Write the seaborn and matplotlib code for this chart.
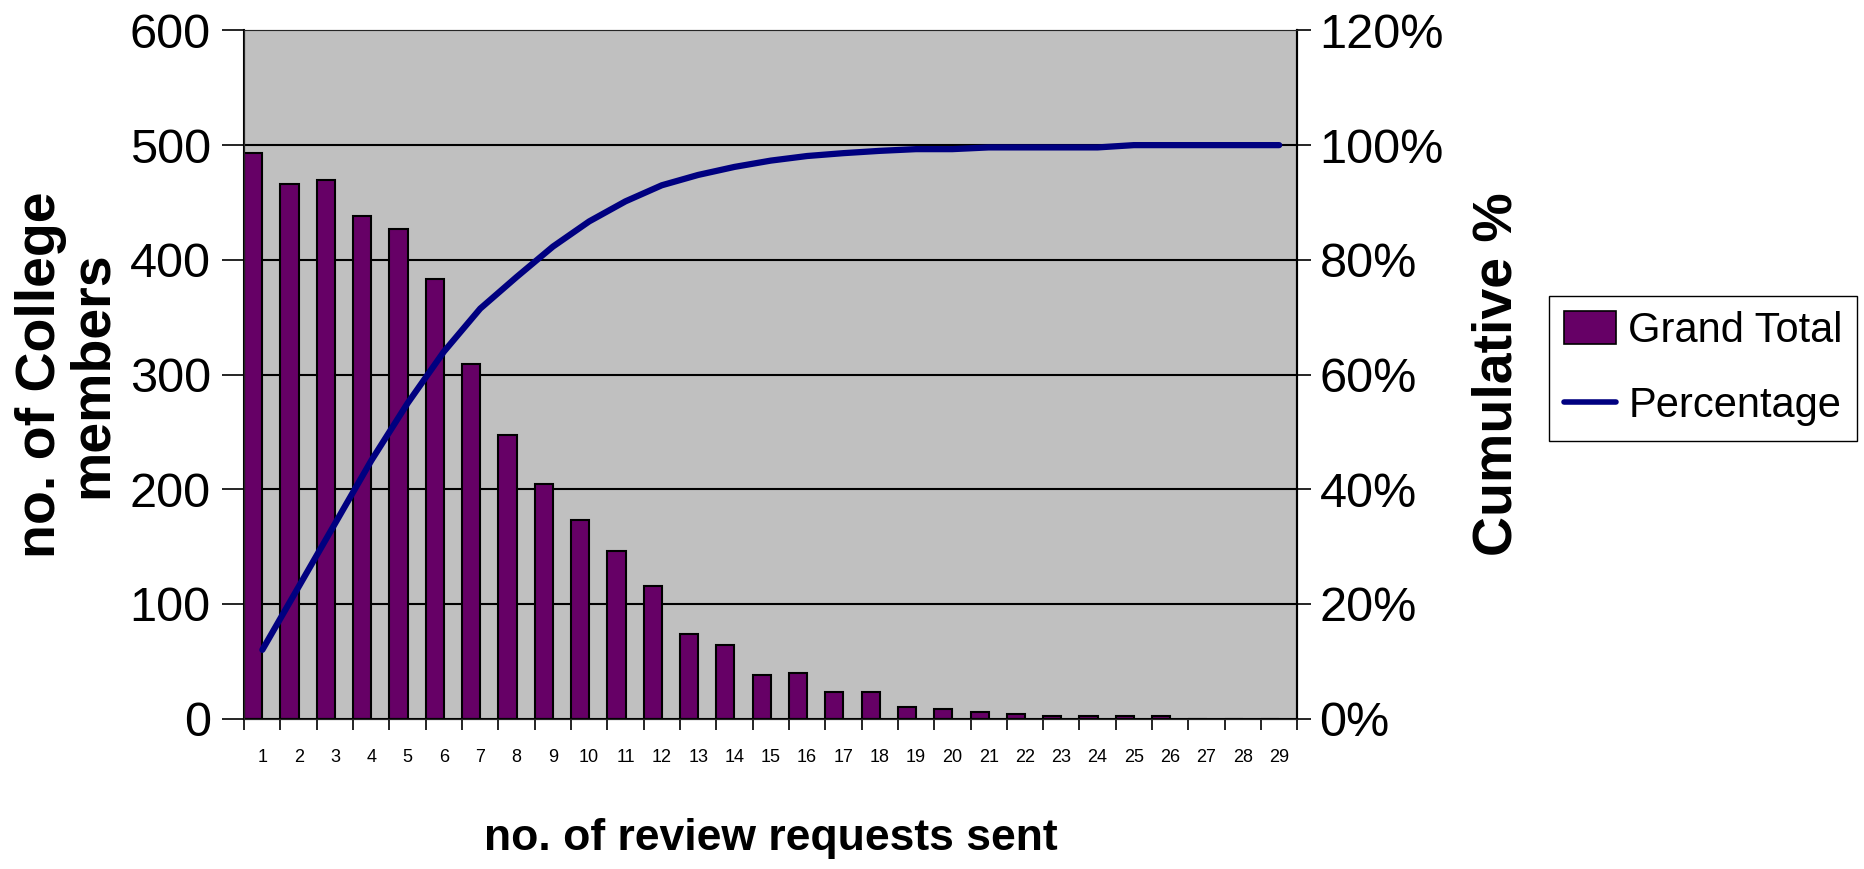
import matplotlib
matplotlib.use("Agg")
import matplotlib.pyplot as plt
import numpy as np
import pandas as pd
import seaborn as sns
from matplotlib.lines import Line2D
from matplotlib.patches import Patch

requests_sent = [str(i) for i in range(1, 30)]
grand_total = [493, 466, 470, 438, 427, 383, 309, 247, 205, 173, 146, 116, 74, 64,
               38, 40, 23, 23, 10, 8, 6, 4, 2, 2, 2, 2, 0, 0, 0]
cumulative_pct = [12, 23, 34, 45, 55, 64, 71.5, 77, 82.3, 86.7, 90.2, 93, 94.8, 96.2,
                  97.3, 98.1, 98.6, 99, 99.3, 99.3, 99.6, 99.6, 99.6, 99.6, 100, 100,
                  100, 100, 100]
y_ticks = [0, 100, 200, 300, 400, 500, 600]
pct_ticks = [0, 20, 40, 60, 80, 100, 120]

bar_color = "#660066"
line_color = "#000080"

sns.set_style("white")
plt.rcParams["font.family"] = ["Liberation Sans", "DejaVu Sans"]
plt.rcParams["text.color"] = "black"
plt.rcParams["axes.labelcolor"] = "black"
plt.rcParams["xtick.color"] = "black"
plt.rcParams["ytick.color"] = "black"

df = pd.DataFrame({"requests": requests_sent, "members": grand_total, "series": "Grand Total"})

fig = plt.figure(figsize=(18.64, 8.69), dpi=100)
ax = fig.add_axes([0.131, 0.173, 0.565, 0.792])
ax.set_facecolor("#C0C0C0")

# second (empty) hue level keeps the bars in the left half of each category, like the Excel chart
sns.barplot(data=df, x="requests", y="members", hue="series", order=requests_sent,
            hue_order=["Grand Total", "Percentage"],
            palette={"Grand Total": bar_color, "Percentage": line_color},
            width=1.0, dodge=True, edgecolor="black", linewidth=1.5, saturation=1,
            legend=False, ax=ax)

ax.set_ylim(0, 600)
ax.set_xlim(-0.5, len(requests_sent) - 0.5)
ax.set_yticks(y_ticks)
ax.grid(axis="y", color="black", linewidth=1.5)
ax.set_axisbelow(True)
ax.get_ygridlines()[-1].set_visible(False)
ax.get_ygridlines()[0].set_visible(False)

ax.tick_params(axis="y", labelsize=35, length=16, width=1.2, direction="out", pad=8, left=True)
ax.set_xticks(np.arange(len(requests_sent)))
ax.set_xticklabels(requests_sent)
ax.set_xticks(np.arange(len(requests_sent) + 1) - 0.5, minor=True)
ax.tick_params(axis="x", which="major", length=0, labelsize=13, pad=22)
ax.tick_params(axis="x", which="minor", length=8, width=1.2, direction="out", bottom=True)

for side in ["left", "bottom", "right"]:
    ax.spines[side].set_color("black")
    ax.spines[side].set_linewidth(1.5)
ax.spines["top"].set_color("#909090")

ax.set_ylabel("no. of College\nmembers", fontsize=40, fontweight="bold", linespacing=1.0)
ax.yaxis.set_label_coords(-0.119, 0.5)
ax.set_xlabel("no. of review requests sent", fontsize=32, fontweight="bold")
ax.xaxis.set_label_coords(0.5, -0.145)

ax2 = ax.twinx()
sns.lineplot(x=np.arange(len(requests_sent)), y=cumulative_pct, color=line_color,
             linewidth=4.5, ax=ax2)
ax2.set_ylim(0, 120)
ax2.set_yticks(pct_ticks)
ax2.set_yticklabels([f"{t}%" for t in pct_ticks])
ax2.tick_params(axis="y", labelsize=35, length=10, width=1.2, direction="out", pad=6, right=True)
ax2.set_ylabel("Cumulative %", fontsize=40, fontweight="bold")
ax2.yaxis.set_label_coords(1.165, 0.5)
ax2.spines["right"].set_color("black")
ax2.spines["right"].set_linewidth(1.5)

handles = [Patch(facecolor=bar_color, edgecolor="black", linewidth=1.2),
           Line2D([0], [0], color=line_color, linewidth=4)]
fig.legend(handles, ["Grand Total", "Percentage"], loc="center left",
           bbox_to_anchor=(0.831, 0.576), borderaxespad=0, fontsize=30, frameon=True,
           fancybox=False, edgecolor="black", framealpha=1, handlelength=1.25,
           handleheight=0.85, handletextpad=0.3, labelspacing=0.85, borderpad=0.35)

fig.savefig("out.png", dpi=100)
